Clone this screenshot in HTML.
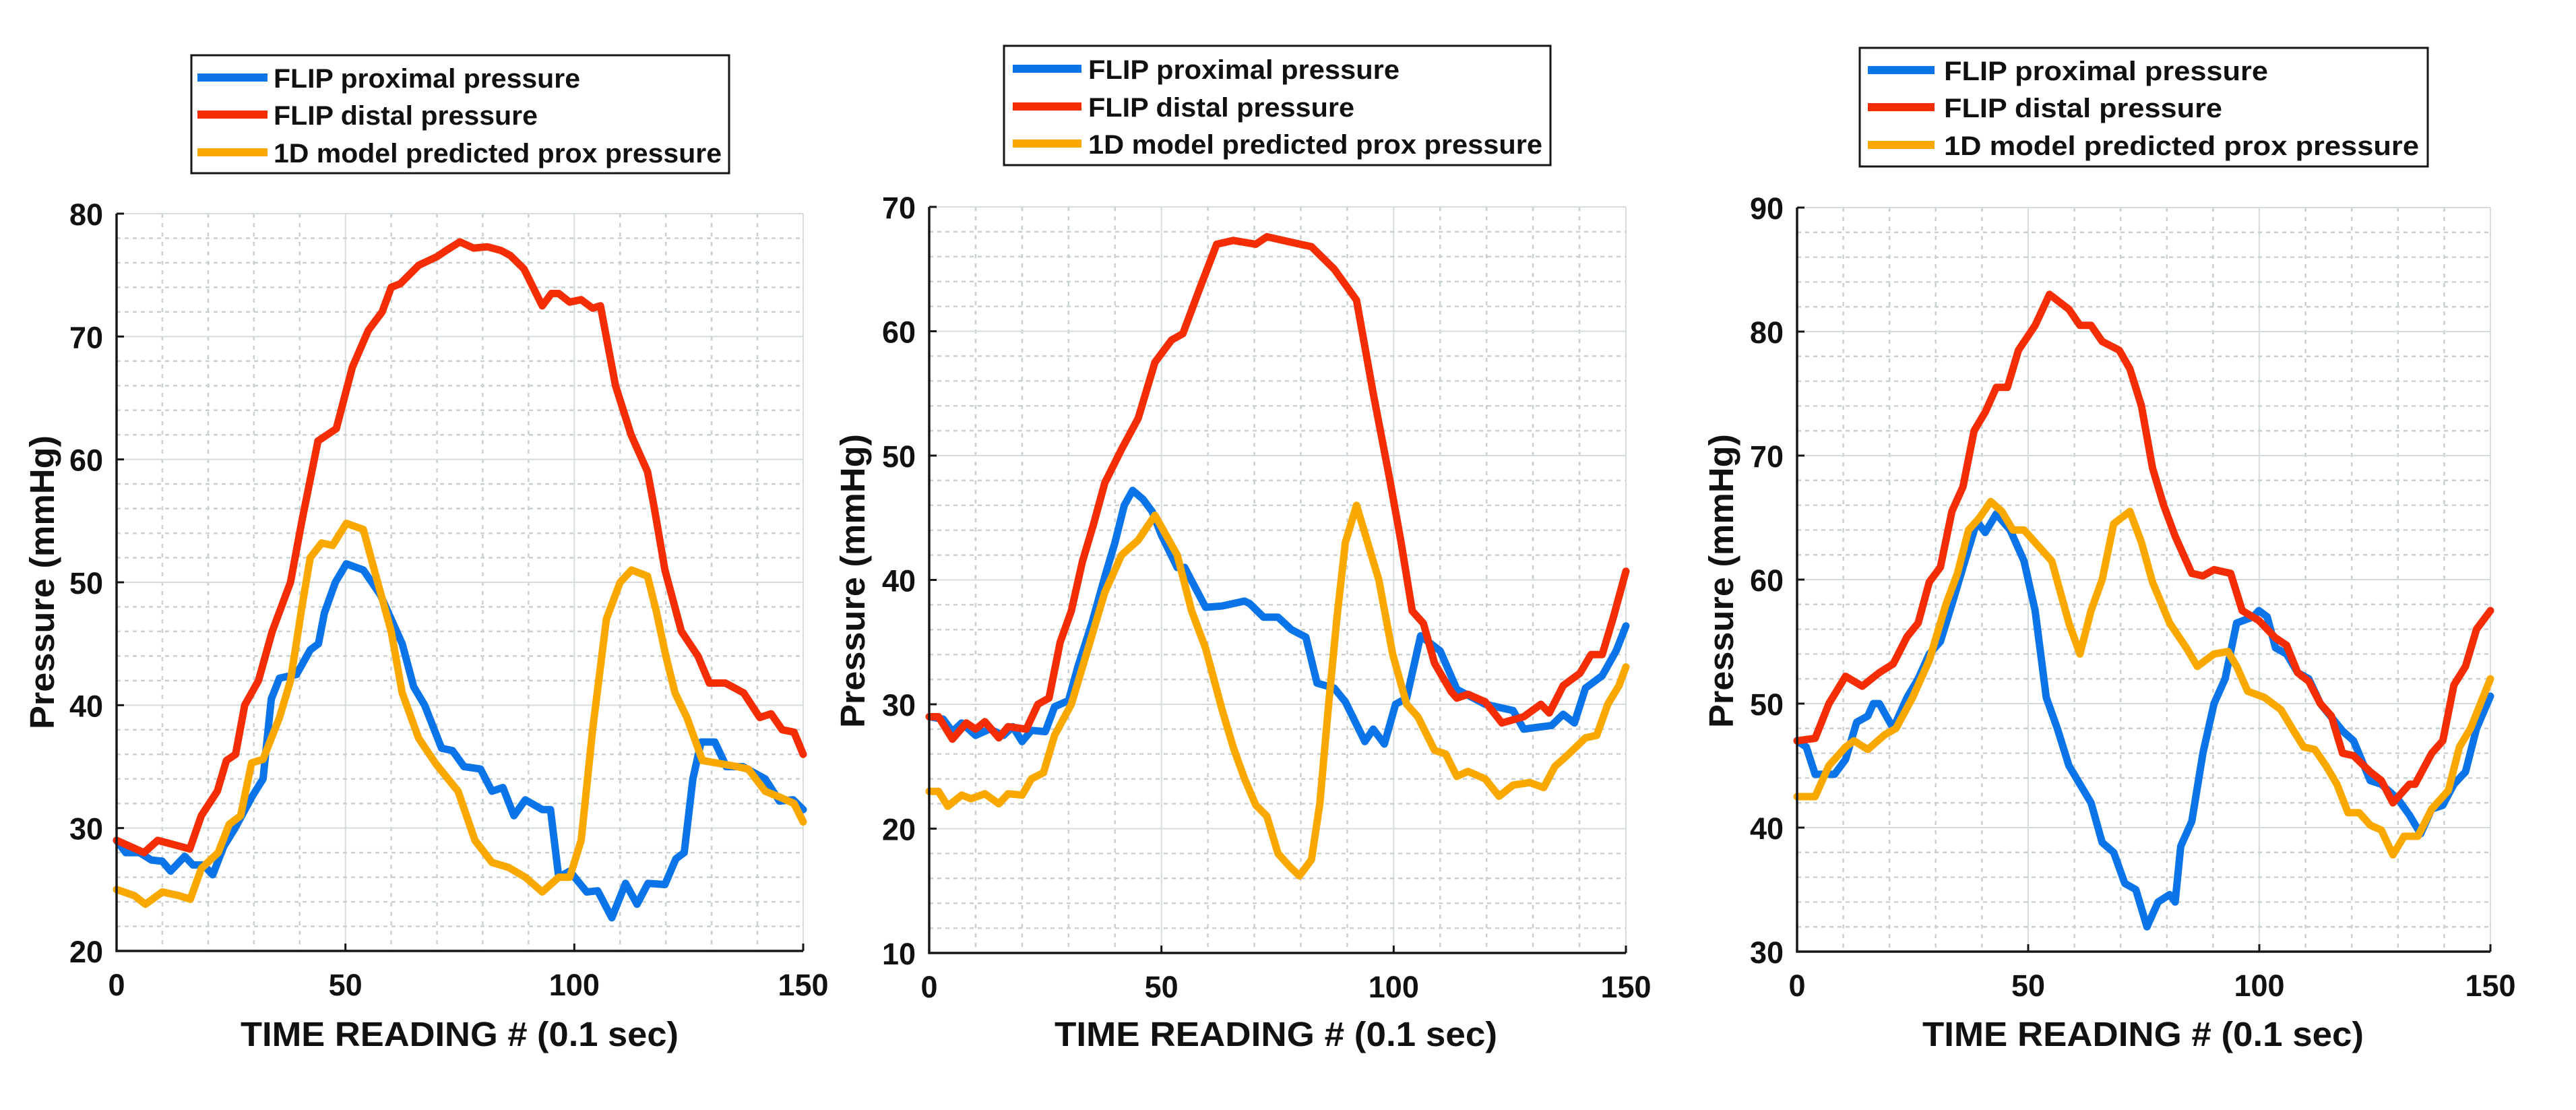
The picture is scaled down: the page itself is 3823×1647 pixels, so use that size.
<!DOCTYPE html>
<html><head><meta charset="utf-8"><style>
html,body{margin:0;padding:0;background:#fff;}
svg{display:block;}
text{font-family:"Liberation Sans",Arial,sans-serif;font-weight:bold;fill:#111;}
</style></head><body>
<svg id="fig" width="3823" height="1647" viewBox="0 0 3823 1647" xmlns="http://www.w3.org/2000/svg"></svg>
<script>
// ---- Chart 1 data ----
const c1RedX=[0,3,6,9,11,14,16,18.5,22,24,26,28,31,34,38,40.5,44,48,51.5,55,58,60,62,66,70,72,75,78,81,84,86,89,91,93,95,96.6,99,101.5,104,105.7,109,112.4,116,117.5,119.8,123.4,127,129.5,133,137,140.5,143,145.4,148,150];
const c1RedY=[29,28.5,28,29,28.8,28.5,28.3,31,33,35.5,36,40,42,46,50,55,61.5,62.5,67.5,70.5,72,74,74.3,75.8,76.5,77,77.7,77.2,77.3,77,76.6,75.5,74,72.5,73.5,73.5,72.8,73,72.3,72.5,66,62,59,56,51,46,44,41.8,41.8,41,39,39.3,38,37.8,36];
const c1BlueX=[0,2,5,7.6,10,11.8,14.9,16.7,19,21,23.4,25.9,29.5,32,33.8,35.6,39.3,42.3,44.1,45.4,47.8,50.2,53.9,57.6,62.4,64.9,67.3,71,73.4,75.9,79.5,82,84.4,86.8,89.3,93,94.8,96.6,99,102.7,105.1,108.2,111.2,113.7,116.1,119.8,122.2,124,125.9,127.7,130.7,133.2,136.8,141.7,144.8,147.8,150];
const c1BlueY=[29,28,28,27.4,27.3,26.5,27.7,27,27,26.2,28.5,30,32.5,34,40.5,42.2,42.5,44.5,45,47.5,50,51.5,51,49,45,41.5,40,36.5,36.3,35,34.8,33,33.3,31,32.3,31.5,31.5,26,26.5,24.8,24.9,22.7,25.5,23.8,25.5,25.4,27.5,28,34,37,37,35,35,34,32.2,32.3,31.5];
const c1YelX=[0,3.9,6.3,10,13.7,16.1,18.5,22.2,24.6,27.1,29.5,32,35.6,38,40.5,42.3,44.8,47.2,50.2,53.9,56.3,60,62.4,66,69.8,74.6,78.3,82,85.6,89.3,93,96.6,99,101.5,104,107,110,112.5,116,118,120,122,124.6,128,131,135.6,138,141.7,145,148,150];
const c1YelY=[25,24.5,23.8,24.8,24.5,24.2,26.7,28,30.3,31,35.3,35.6,39,42,48,52,53.2,53,54.8,54.3,51,46,41,37.3,35.2,33,29,27.2,26.8,26,24.8,26,26,29,38,47,50,51,50.5,47.5,44,41,39,35.5,35.3,35,34.8,33,32.5,32,30.5];
// ---- Chart 2 data ----
const c2RedX=[0,2,5,8,10,12,15,17,20.9,23.4,25.8,28.2,30.6,33,35.4,37.8,41.4,45,48.6,52.2,54.6,58.3,61.9,65.5,70.3,72.7,77.5,82.3,87.2,92,95.6,99.2,101.6,104,106.4,108.8,112.4,113.6,116,119.7,123.3,128,131.7,133.5,136.5,140.1,142.5,144.9,147.3,150];
const c2RedY=[29,29,27.2,28.5,28,28.6,27.3,28.2,28,30,30.5,35,37.5,41.5,44.5,47.8,50.5,53,57.5,59.3,59.8,63.5,67,67.3,67,67.6,67.2,66.8,65,62.5,55,48,43,37.5,36.5,33.3,31,30.5,30.8,30.2,28.5,29,30,29.3,31.5,32.5,34,34,37,40.7];
const c2BlueX=[0,3,5,7,10,13,16,18,20,22,25,27,30,32,35,38,40,42,43.8,46,48,50,53.4,55,59.5,63,67.9,69,72,75.1,78,81.1,83.5,87.2,89.6,93.8,95.6,98,100.4,102.8,105.8,110,113.6,119.7,125.7,128,134,136.5,138.9,141.3,144.9,147.9,150];
const c2BlueY=[29,28.8,27.8,28.5,27.5,28,27.5,28.2,27,27.9,27.8,29.8,30.3,33,36.5,40.5,43,46,47.2,46.5,45.5,43.6,41,41,37.8,37.9,38.3,38.1,37,37,36,35.4,31.7,31.3,30.2,27,28,26.8,30,30.5,35.5,34.3,31.2,30,29.5,28,28.3,29.2,28.5,31.3,32.3,34.3,36.3];
const c2YelX=[0,2,4,7,9,12,15,17,20,22,24.6,27,30.6,34.2,37.8,41.4,45,48.6,53.4,56.5,59.5,63.1,65.5,67.9,70.3,72.7,75.1,77.5,79.7,82.3,84.1,86,87.8,89.6,92,94.4,96.8,99.8,102.8,105.2,108.8,111.2,113.6,116,119.7,122.7,125.7,129.3,132.3,134.7,137.7,141.3,143.7,146.1,148.5,150];
const c2YelY=[23,23,21.8,22.7,22.4,22.8,22,22.8,22.7,24,24.5,27.5,30,34.5,39,42,43.2,45.2,42,37.5,34.5,29.5,26.5,24,21.9,21,18,17,16.2,17.5,22,30,37,43,46,43,40,34,30,29,26.3,26,24.2,24.6,24,22.6,23.5,23.7,23.3,25,26,27.3,27.5,30,31.5,33];
// ---- Chart 3 data ----
const c3RedX=[0,3.9,6.9,10.5,14.1,17.8,20.8,23.8,26.2,28.6,31,33.5,35.9,38.3,40.7,43.1,45.5,47.9,51.5,54.6,58.8,61.2,63.6,66,69.7,72,74.5,76.9,79.3,81.8,85.4,87.8,90.2,93.8,96.3,99.9,103.5,105.9,108.3,110.7,113.2,115.6,118,120.4,124,126.4,128.9,132.5,133.7,137.3,139.7,142.1,144.6,147,150];
const c3RedY=[47,47.2,50,52.2,51.4,52.5,53.2,55.4,56.5,59.8,61,65.5,67.5,72,73.5,75.5,75.5,78.5,80.5,83,81.8,80.5,80.5,79.2,78.5,77,74,69,66,63.5,60.5,60.3,60.8,60.5,57.5,56.7,55.3,54.7,52.5,51.8,50,49,46,45.8,44.5,43.8,42,43.5,43.5,46,47,51.5,53,56,57.5];
const c3BlueX=[0,2,3.9,8.1,10.5,12.9,15.3,16.5,17.8,20.8,23.8,26.2,28.6,31,33.5,35.9,38.9,40.7,43.1,46.1,49.1,51.5,53.9,56.3,58.8,61.2,63.6,66,68.5,70.9,73.3,75.7,78.1,80.6,81.8,83,85.4,87.8,90.2,92.6,95.1,98.7,99.9,101.7,103.5,105.9,108.3,110.7,113.2,118,120.4,124,126.4,130,132.5,134.9,137.3,139.7,142.1,144.6,147,150];
const c3BlueY=[47,46.5,44.3,44.3,45.5,48.5,49,50,50,48,50.5,52,54,55,58,61,64.7,63.8,65.3,64,61.5,57.5,50.5,48,45,43.5,42,38.8,38,35.5,35,32,34,34.6,34,38.5,40.5,46,50,52,56.5,57,57.5,57,54.5,54,52.5,52,50,47.8,47,43.8,43.5,42.3,41,39.5,41.5,41.8,43.5,44.5,48,50.6];
const c3YelX=[0,3.9,6.9,10.5,12.3,15.3,19,21.4,25,28.6,32.2,34.7,37.1,39.5,41.9,44.3,46.7,49.1,51.5,55.1,58.8,61.2,63.6,66,68.5,72,74.5,76.9,80.6,84.2,86.6,90.2,93.2,95.1,97.5,101.1,104.7,107.1,109.6,112,114.4,116.8,119.2,121.6,124,126.4,128.9,131.3,134.3,137.3,140.9,143.3,145.7,150];
const c3YelY=[42.5,42.5,45,46.5,47,46.3,47.5,48,50.5,53.5,58,60.5,64,65,66.3,65.5,64,64,63,61.5,56.5,54,57.5,60,64.5,65.5,63,59.8,56.5,54.5,53,54,54.2,53,51,50.5,49.5,48,46.5,46.3,45,43.5,41.2,41.2,40.2,39.8,37.8,39.3,39.3,41.5,43,46.5,48,52];
// ---- Axis tick labels ----
const xTicks=[0,50,100,150];
const c1YTicks=[20,30,40,50,60,70,80];
const c2YTicks=[10,20,30,40,50,60,70];
const c3YTicks=[30,40,50,60,70,80,90];
const legendLabels=["FLIP proximal pressure","FLIP distal pressure","1D model predicted prox pressure"];

const NS="http://www.w3.org/2000/svg";
const svg=document.getElementById('fig');
const COL=["#0a74e8","#f52d05","#f9a800"];
function mk(tag,attrs,parent){const e=document.createElementNS(NS,tag);for(const k in attrs)e.setAttribute(k,attrs[k]);(parent||svg).appendChild(e);return e;}

const charts=[
 {id:1,L:173,R:1192,T:317,B:1411,yT:c1YTicks,ser:[[c1BlueX,c1BlueY],[c1RedX,c1RedY],[c1YelX,c1YelY]],
  leg:{x:284,y:82,w:798,h:175,lx1:293,lx2:397,tx:406,rows:[115,170,226],tl:[455,392,665]},
  yt:{x:80,y:864},xt:{x:357,w:650}},
 {id:2,L:1379,R:2413,T:307,B:1414,yT:c2YTicks,ser:[[c2BlueX,c2BlueY],[c2RedX,c2RedY],[c2YelX,c2YelY]],
  leg:{x:1490,y:68,w:811,h:177,lx1:1503,lx2:1605,tx:1615,rows:[102,158,213],tl:[462,395,674]},
  yt:{x:1283,y:862},xt:{x:1565,w:657}},
 {id:3,L:2667,R:3696,T:308,B:1412,yT:c3YTicks,ser:[[c3BlueX,c3BlueY],[c3RedX,c3RedY],[c3YelX,c3YelY]],
  leg:{x:2760,y:71,w:843,h:176,lx1:2772,lx2:2871,tx:2885,rows:[104,159,215],tl:[481,413,705]},
  yt:{x:2572,y:862},xt:{x:2853,w:655}}
];

charts.forEach(c=>{
  const g=mk('g',{});
  
  
  const y0=c.yT[0],y1=c.yT[c.yT.length-1];
  const sx=v=>c.L+(v-0)/150*(c.R-c.L);
  const sy=v=>c.B-(v-y0)/(y1-y0)*(c.B-c.T);
  const grid=mk('g',{},g);
  
  
  for(let v=10;v<150;v+=10){
    const major=(v%50===0);
    mk('line',{x1:sx(v),x2:sx(v),y1:c.T,y2:c.B,stroke:major?'#d5dcdc':'#c9d0d0','stroke-width':major?2:2.5,'stroke-dasharray':major?'none':'6 8'},grid);
  }
  for(let v=y0+2;v<y1;v+=2){
    const major=((v-y0)%10===0);
    mk('line',{x1:c.L,x2:c.R,y1:sy(v),y2:sy(v),stroke:major?'#d5dcdc':'#c9d0d0','stroke-width':major?2:2.5,'stroke-dasharray':major?'none':'6 6'},grid);
  }
  mk('line',{x1:c.L,x2:c.R,y1:c.T,y2:c.T,stroke:'#d5dcdc','stroke-width':2},grid);
  mk('line',{x1:c.R,x2:c.R,y1:c.T,y2:c.B,stroke:'#d5dcdc','stroke-width':2},grid);
  c.ser.forEach((s,i)=>{
    const pts=s[0].map((x,k)=>sx(x).toFixed(1)+','+sy(s[1][k]).toFixed(1)).join(' ');
    const pl=mk('polyline',{points:pts,fill:'none',stroke:COL[i],'stroke-width':11,'stroke-linejoin':'round','stroke-linecap':'round'},g);
    
    
  });
  const ax=mk('path',{d:`M${c.L},${c.T} L${c.L},${c.B} L${c.R},${c.B}`,fill:'none',stroke:'#161616','stroke-width':3.5},g);
  
  
  xTicks.forEach(v=>{
    mk('line',{x1:sx(v),x2:sx(v),y1:c.B,y2:c.B-11,stroke:'#161616','stroke-width':3},g);
    const t=mk('text',{x:sx(v),y:c.B+66,'text-anchor':'middle','font-size':45},g);
    
    
    t.textContent=v;
  });
  c.yT.forEach(v=>{
    mk('line',{x1:c.L,x2:c.L+11,y1:sy(v),y2:sy(v),stroke:'#161616','stroke-width':3},g);
    const t=mk('text',{x:c.L-20,y:sy(v)+17,'text-anchor':'end','font-size':45},g);
    
    
    t.textContent=v;
  });
  const xt=mk('text',{x:c.xt.x,y:1552,'font-size':51,textLength:c.xt.w,lengthAdjust:'spacingAndGlyphs'},g);
  
  
  xt.textContent='TIME READING # (0.1 sec)';
  const yt=mk('text',{x:0,y:0,'font-size':51,'text-anchor':'middle',textLength:436,lengthAdjust:'spacingAndGlyphs',transform:`translate(${c.yt.x},${c.yt.y}) rotate(-90)`},g);
  
  
  yt.textContent='Pressure (mmHg)';
  const lg=mk('g',{},g);
  
  
  mk('rect',{x:c.leg.x,y:c.leg.y,width:c.leg.w,height:c.leg.h,fill:'#fff',stroke:'#161616','stroke-width':3},lg);
  legendLabels.forEach((lab,i)=>{
    const ry=c.leg.rows[i];
    const en=mk('g',{},lg);
    
    
    mk('line',{x1:c.leg.lx1,x2:c.leg.lx2,y1:ry,y2:ry,stroke:COL[i],'stroke-width':12},en);
    const t=mk('text',{x:c.leg.tx,y:ry+15,'font-size':40,textLength:c.leg.tl[i],lengthAdjust:'spacingAndGlyphs'},en);
    t.textContent=lab;
  });
});
</script>
</body></html>
